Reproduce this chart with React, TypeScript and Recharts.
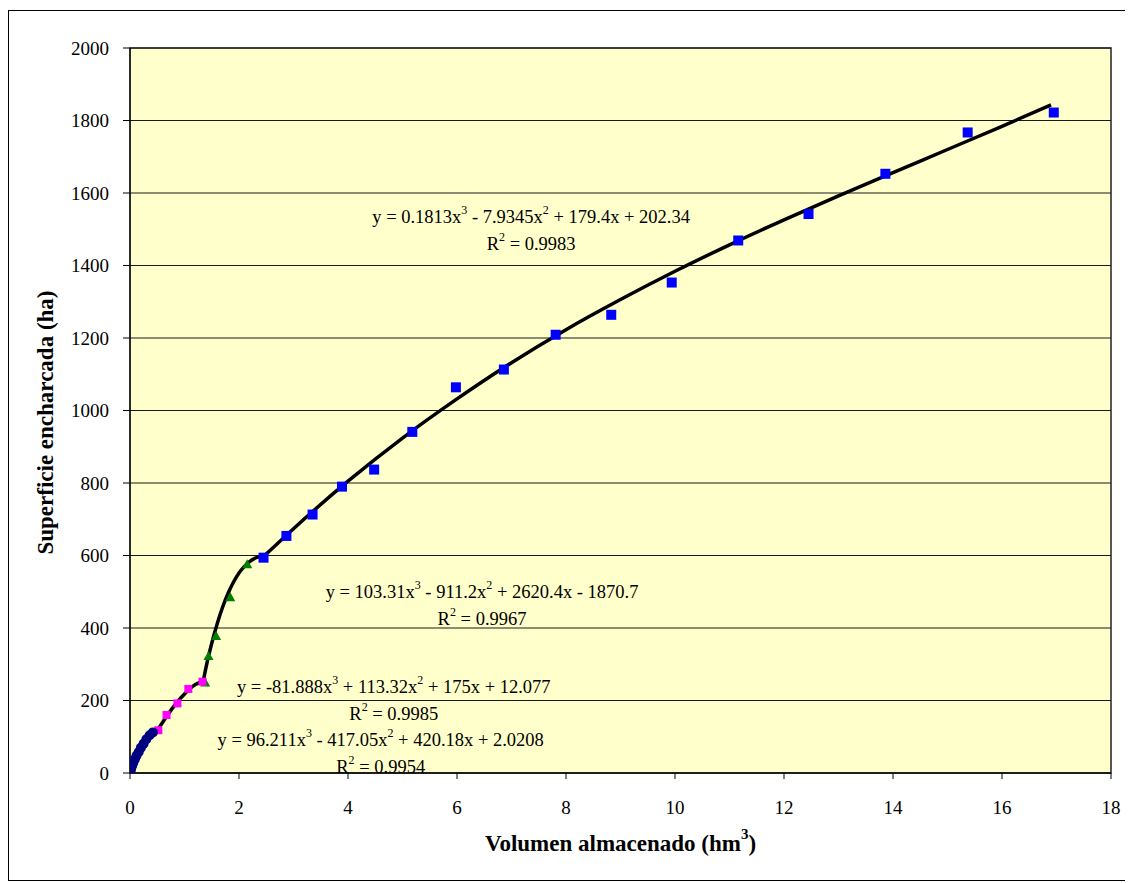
import React from "react";
import {
  ComposedChart,
  Scatter,
  Line,
  XAxis,
  YAxis,
  CartesianGrid,
  ReferenceArea,
  ReferenceDot,
} from "recharts";

// axis ticks
const xTicks = [0, 2, 4, 6, 8, 10, 12, 14, 16, 18];
const yTicks = [0, 200, 400, 600, 800, 1000, 1200, 1400, 1600, 1800, 2000];

// measured points (volumen hm3, superficie ha)
const circlePoints = [
  [0, 1], [0.01, 6], [0.02, 12], [0.04, 20], [0.06, 28], [0.09, 38],
  [0.12, 48], [0.16, 58], [0.2, 70], [0.25, 81], [0.3, 93], [0.36, 104], [0.42, 112],
];
const magentaPoints = [[0.52, 118], [0.67, 160], [0.87, 192], [1.07, 232], [1.33, 252]];
const greenPoints = [[1.38, 250], [1.44, 323], [1.58, 378], [1.84, 485], [2.15, 576]];
const bluePoints = [
  [2.45, 594], [2.87, 654], [3.35, 713], [3.89, 790], [4.48, 837], [5.18, 941],
  [5.98, 1064], [6.86, 1113], [7.81, 1209], [8.83, 1264], [9.94, 1353],
  [11.16, 1469], [12.45, 1542], [13.86, 1653], [15.37, 1767], [16.95, 1822],
];

// trend curves
const trendCircles = [
  [0, 2], [0.05, 22], [0.1, 40], [0.15, 56], [0.2, 70], [0.25, 82],
  [0.3, 93], [0.35, 102], [0.4, 110], [0.45, 115], [0.52, 120],
];
const trendMagenta = [
  [0.52, 122], [0.6, 140], [0.7, 162], [0.8, 183], [0.9, 202], [1.0, 218],
  [1.1, 233], [1.2, 244], [1.3, 251], [1.35, 253],
];
const trendGreen = [
  [1.35, 258], [1.4, 295], [1.5, 358], [1.6, 412], [1.7, 458], [1.8, 496],
  [1.9, 527], [2.0, 552], [2.1, 570], [2.2, 584], [2.3, 593], [2.4, 598], [2.48, 600],
];
const trendBlue = [
  [2.45, 597], [3, 674], [4, 805], [5, 924], [6, 1032], [7, 1132], [8, 1223],
  [9, 1306], [10, 1384], [11, 1457], [12, 1526], [13, 1592], [14, 1656],
  [15, 1720], [16, 1784], [16.9, 1843],
];

// trendline equations and R², anchored in data units
const equations = [
  { parts: ["y = 0.1813x", "3", " - 7.9345x", "2", " + 179.4x + 202.34"], r2: "0.9983", at: [7.36, 1534] },
  { parts: ["y = 103.31x", "3", " - 911.2x", "2", " + 2620.4x - 1870.7"], r2: "0.9967", at: [6.46, 499] },
  { parts: ["y = -81.888x", "3", " + 113.32x", "2", " + 175x + 12.077"], r2: "0.9985", at: [4.84, 237] },
  { parts: ["y = 96.211x", "3", " - 417.05x", "2", " + 420.18x + 2.0208"], r2: "0.9954", at: [4.6, 91] },
];

const toXY = (arr: number[][]) => arr.map(([x, y]) => ({ x, y }));

const FONT = "Liberation Serif, Times New Roman, serif";

const squareShape = (color: string, size: number) => (p: any) => (
  <rect x={p.cx - size / 2} y={p.cy - size / 2} width={size} height={size} fill={color} />
);

const triangleShape = (p: any) => (
  <polygon
    points={`${p.cx},${p.cy - 5} ${p.cx - 5},${p.cy + 4} ${p.cx + 5},${p.cy + 4}`}
    fill="#008000"
  />
);

const circleShape = (p: any) => <circle cx={p.cx} cy={p.cy} r={5} fill="#000080" />;

const EquationText = ({ cx, cy, eq }: any) => (
  <g fontFamily={FONT} fontSize={18.5} fill="#000">
    <text x={cx} y={cy} textAnchor="middle" dominantBaseline="central">
      {eq.parts.map((t: string, i: number) =>
        i % 2 === 1 ? (
          <tspan key={i} fontSize={12} dy={-7}>{t}</tspan>
        ) : (
          <tspan key={i} dy={i === 0 ? 0 : 7}>{t}</tspan>
        )
      )}
    </text>
    <text x={cx} y={cy + 27} textAnchor="middle" dominantBaseline="central">
      <tspan>R</tspan>
      <tspan fontSize={12} dy={-7}>2</tspan>
      <tspan dy={7}>{` = ${eq.r2}`}</tspan>
    </text>
  </g>
);

// serif tick labels
const XTick = ({ x, y, payload }: any) => (
  <text x={x} y={y + 26} textAnchor="middle" dominantBaseline="central" fontFamily={FONT} fontSize={19} fill="#000">
    {payload.value}
  </text>
);

const YTick = ({ x, y, payload }: any) => (
  <text x={x - 12} y={y} textAnchor="end" dominantBaseline="central" fontFamily={FONT} fontSize={19} fill="#000">
    {payload.value}
  </text>
);

const App = () => {
  return (
    <div
      style={{
        marginTop: 2,
        width: 1123,
        height: 871,
        border: "1.5px solid #000",
        boxSizing: "border-box",
        background: "#fff",
      }}
    >
      <ComposedChart
        width={1120}
        height={868}
        margin={{ top: 37, right: 18, bottom: 46, left: 51 }}
      >
        <CartesianGrid
          vertical={false}
          stroke="#000"
          strokeOpacity={0.9}
          fill="#FFFFCC"
          fillOpacity={1}
        />
        <XAxis
          type="number"
          dataKey="x"
          domain={[0, 18]}
          ticks={xTicks}
          interval={0}
          allowDataOverflow
          stroke="#000"
          tickSize={6}
          tick={<XTick />}
          height={60}
          label={(props: any) => {
            const vb = props.viewBox;
            return (
              <text
                x={vb.x + vb.width / 2}
                y={vb.y + 70}
                textAnchor="middle"
                dominantBaseline="central"
                fontFamily={FONT}
                fontSize={23}
                fontWeight="bold"
                fill="#000"
              >
                <tspan>Volumen almacenado (hm</tspan>
                <tspan fontSize={15} dy={-9}>3</tspan>
                <tspan dy={9}>)</tspan>
              </text>
            );
          }}
        />
        <YAxis
          type="number"
          dataKey="y"
          domain={[0, 2000]}
          ticks={yTicks}
          interval={0}
          allowDataOverflow
          stroke="#000"
          tickSize={7}
          tick={<YTick />}
          width={70}
          label={(props: any) => {
            const vb = props.viewBox;
            const cx = vb.x - 15;
            const cy = vb.y + vb.height / 2 + 12;
            return (
              <text
                x={cx}
                y={cy}
                transform={`rotate(-90, ${cx}, ${cy})`}
                textAnchor="middle"
                dominantBaseline="central"
                fontFamily={FONT}
                fontSize={23}
                fontWeight="bold"
                fill="#000"
              >
                Superficie encharcada (ha)
              </text>
            );
          }}
        />
        <ReferenceArea
          x1={0}
          x2={18}
          y1={0}
          y2={2000}
          fill="none"
          stroke="#222"
          strokeWidth={1.5}
        />

        <Scatter data={toXY(bluePoints)} shape={squareShape("#0000FF", 10)} isAnimationActive={false} />
        <Scatter data={toXY(greenPoints)} shape={triangleShape} isAnimationActive={false} />
        <Scatter data={toXY(magentaPoints)} shape={squareShape("#FF00FF", 8)} isAnimationActive={false} />
        <Scatter data={toXY(circlePoints)} shape={circleShape} isAnimationActive={false} />

        {[trendCircles, trendMagenta, trendGreen, trendBlue].map((t, i) => (
          <Line
            key={`trend-${i}`}
            data={toXY(t)}
            dataKey="y"
            type="monotone"
            stroke="#000"
            strokeWidth={3.5}
            dot={false}
            activeDot={false}
            isAnimationActive={false}
          />
        ))}

        {equations.map((eq, i) => (
          <ReferenceDot
            key={`eq-${i}`}
            x={eq.at[0]}
            y={eq.at[1]}
            r={0}
            shape={(p: any) => <EquationText cx={p.cx} cy={p.cy} eq={eq} />}
          />
        ))}
      </ComposedChart>
    </div>
  );
};

export default App;
